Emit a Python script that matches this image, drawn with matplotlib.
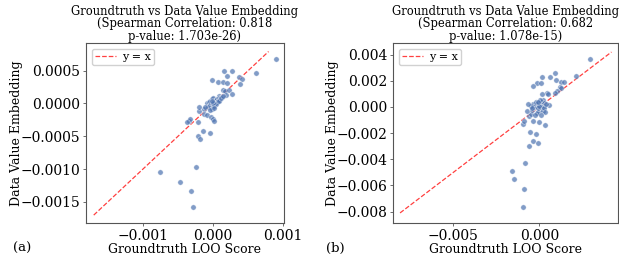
import matplotlib
matplotlib.use("Agg")
import matplotlib.pyplot as plt
from matplotlib.ticker import MultipleLocator
import numpy as np

plt.rcParams['font.family'] = ['DejaVu Serif']

# ---- Panel (a) data (units of 1e-4) ----
gt_a = [8.9, 6.1, 3.7, 4.1, 3.9, 1.5, 2.7, -0.2, 0.7, 1.4, 2.0, 2.0, 1.4, 1.7, 2.2, 2.7, 1.9, 0.8, 0.4,
        -2.0, -1.3, -1.3, -0.9, -0.3, 0.0, 0.2, -3.4, -3.3, -3.7, -2.2, -1.4, -0.5, -2.1, -1.8,
        -2.4, -7.6, -4.7, -3.2, -2.9,
        -0.8, -0.6, -0.4, -0.2, 0.0, 0.2, 0.4, 0.6, 0.8, 1.0, 1.2, -0.5, -0.3, 0.1, 0.3, 0.5, 0.7,
        -0.7, -0.1, 0.2, 0.4, 0.0, -0.2, 0.9, 1.1, 1.4, -0.4, 0.1, -1.2, -2.0]
emb_a = [6.7, 4.7, 4.0, 3.7, 2.9, 4.9, 4.9, 3.6, 3.3, 3.3, 4.2, 3.1, 2.0, 1.9, 2.0, 1.5, 1.3, 1.1, 0.5,
         -1.2, -0.8, -1.6, -1.7, -2.1, -2.4, -2.6, -2.7, -2.4, -2.8, -2.8, -4.2, -4.5, -5.0, -5.4,
         -9.6, -10.5, -11.9, -13.3, -15.8,
         0.0, 0.2, 0.4, 0.6, 0.8, 0.3, 0.5, 0.7, 0.9, 0.6, 1.0, -0.3, -0.5, -0.2, 0.0, 0.2, 0.4,
         -0.6, -0.8, -0.4, -0.1, 0.1, 0.3, 0.3, 0.8, 1.2, -1.0, -0.7, -0.5, -0.6]
line_a = [-17.0, 7.9]

# ---- Panel (b) data (units of 1e-3) ----
gt_b = [2.95, 2.12, 0.90, 0.62, 0.16, -0.15, 0.10, -0.38, 1.00, 1.24, 1.45, 1.20, 1.28, 1.01, 0.91,
        0.43, 0.52, 0.14, 0.56,
        -0.97, -0.87, -0.38, 0.00, 0.33, -0.54, -0.19, -0.38, -0.09, -0.62, -0.81, -1.57, -1.49,
        -0.91, -0.95,
        -0.6, -0.5, -0.7, -0.4, -0.3, -0.2, -0.1, 0.0, 0.1, 0.2, 0.3, 0.25, 0.15, 0.05, -0.05,
        -0.15, -0.25, 0.1, -0.1, 0.0, 0.2, 0.3, -0.35, -0.5, 0.4, -0.2, 0.05, -0.05, 0.35, 0.1,
        -0.65, -0.45]
emb_b = [3.66, 2.35, 2.58, 2.26, 2.31, 1.80, 1.80, 1.60, 2.04, 1.92, 1.92, 1.55, 1.42, 1.24, 1.09,
         1.09, 0.99, 0.99, 0.18,
         -1.30, -1.07, -1.04, -1.12, -1.35, -1.88, -2.03, -2.59, -2.77, -3.02, -4.32, -4.87, -5.51,
         -6.25, -7.64,
         -0.7, -0.5, -0.3, -0.2, 0.0, 0.1, 0.2, 0.3, 0.4, 0.5, 0.3, 0.1, -0.1, -0.2, -0.35,
         -0.45, -0.6, 0.0, -0.05, 0.1, -0.3, -0.1, 0.25, 0.1, 0.2, 0.35, 0.55, 0.4, -0.4, -0.6,
         0.2, -0.1]
line_b = [-8.1, 4.2]

titles = ["Groundtruth vs Data Value Embedding\n(Spearman Correlation: 0.818\np-value: 1.703e-26)",
          "Groundtruth vs Data Value Embedding\n(Spearman Correlation: 0.682\np-value: 1.078e-15)"]
panel_labels = ["(a)", "(b)"]

fig = plt.figure(figsize=(6.19, 2.60), dpi=100)
W, H = 619, 260
ax_a = fig.add_axes([86 / W, (H - 223) / H, 198 / W, 180 / H])
ax_b = fig.add_axes([393 / W, (H - 223) / H, 225 / W, 180 / H])

def draw(ax, x, y, line, scale, title, xlim, ylim, xstep, ystep):
    x = np.array(x) * scale
    y = np.array(y) * scale
    ln = np.array(line) * scale
    ax.scatter(x, y, s=15, color='#4c72b0', alpha=0.7, edgecolor='white', linewidth=0.4, zorder=3)
    ax.plot(ln, ln, color='red', linestyle='--', linewidth=0.9, alpha=0.75, label='y = x', zorder=2)
    ax.set_xlim(*xlim)
    ax.set_ylim(*ylim)
    ax.xaxis.set_major_locator(MultipleLocator(xstep))
    ax.yaxis.set_major_locator(MultipleLocator(ystep))
    ax.set_title(title, fontsize=8.3, pad=1.5, linespacing=0.95)
    ax.set_xlabel("Groundtruth LOO Score", fontsize=9, labelpad=0.5)
    ax.set_ylabel("Data Value Embedding", fontsize=9, labelpad=-1.5)
    ax.tick_params(labelsize=10, length=2.5, width=0.6, pad=1.5, color='#555555')
    for s in ax.spines.values():
        s.set_color('#555555')
        s.set_linewidth(0.8)
    ax.legend(loc='upper left', fontsize=8, handlelength=1.9, borderpad=0.3,
              handletextpad=0.5, framealpha=0.9)

draw(ax_a, gt_a, emb_a, line_a, 1e-4, titles[0], (-0.00181, 0.00101), (-0.00182, 0.00092), 0.001, 0.0005)
draw(ax_b, gt_b, emb_b, line_b, 1e-3, titles[1], (-0.00851, 0.00458), (-0.00887, 0.00489), 0.005, 0.002)

fig.text(13 / W, 1 - 248 / H, panel_labels[0], fontsize=9.5, va='center', ha='left')
fig.text(326 / W, 1 - 248 / H, panel_labels[1], fontsize=9.5, va='center', ha='left')

fig.savefig("out.png", dpi=100)
